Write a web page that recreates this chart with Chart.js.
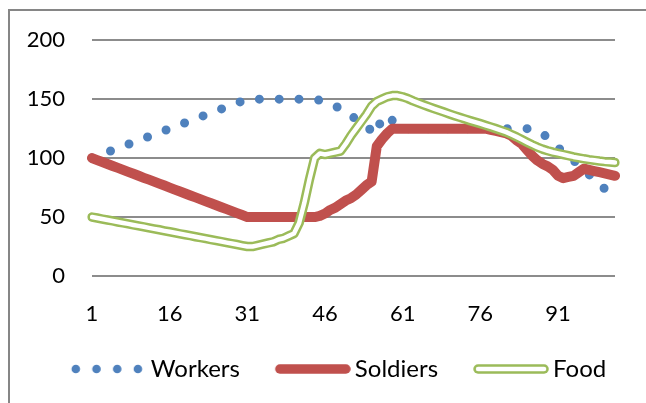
<!DOCTYPE html>
<html>
<head>
<meta charset="utf-8">
<script src="https://cdn.jsdelivr.net/npm/chart.js@4.4.0/dist/chart.umd.min.js"></script>
<style>
  html, body { margin: 0; padding: 0; background: #fff; }
  #wrap { position: relative; width: 646px; height: 403px; overflow: hidden; }
  #frame { position: absolute; left: 8px; top: 9px; width: 700px; height: 500px;
           border-left: 2px solid #868686; border-top: 2px solid #868686; }
  canvas { position: absolute; left: 0; top: 0; }
</style>
</head>
<body>
<div id="wrap">
  <div id="frame"></div>
  <canvas id="colonyChart" width="646" height="403"></canvas>
</div>
<script>
// colony over time

const days = [
  1, 2, 3, 4, 5, 6, 7, 8, 9, 10, 11, 12, 13, 14, 15, 16, 17, 18, 19, 20,
  21, 22, 23, 24, 25, 26, 27, 28, 29, 30, 31, 32, 33, 34, 35, 36, 37, 38, 39, 40,
  41, 42, 43, 44, 45, 46, 47, 48, 49, 50, 51, 52, 53, 54, 55, 56, 57, 58, 59, 60,
  61, 62, 63, 64, 65, 66, 67, 68, 69, 70, 71, 72, 73, 74, 75, 76, 77, 78, 79, 80,
  81, 82, 83, 84, 85, 86, 87, 88, 89, 90, 91, 92, 93, 94, 95, 96, 97, 98, 99, 100,
  101, 102
];

const workers = [
  100, 101.7, 103.3, 105, 106.7, 108.3, 110, 111.7, 113.3, 115, 116.7, 118.3, 120, 121.7, 123.3, 125,
  126.7, 128.3, 130, 131.7, 133.3, 135, 136.7, 138.3, 140, 141.7, 143.3, 145, 146.7, 148.3, 150,
  150, 150, 150, 150, 150, 150, 150, 150, 150, 150, 150, 150, 150,
  149, 148, 146, 144, 142, 139, 136, 133, 130, 127, 123, 120, 136, 134, 132, 126,
  125, 125, 125, 125, 125, 125, 125, 125, 125, 125, 125, 125, 125,
  125, 125, 125, 125, 125, 125, 125, 125, 125, 125, 125, 125, 125,
  123, 121, 117, 113, 109, 105, 101, 98, 94, 90, 86, 82, 78, 74, 72, 70
];

const soldiers = [
  100, 98.3, 96.7, 95, 93.3, 91.7, 90, 88.3, 86.7, 85, 83.3, 81.7, 80, 78.3, 76.7, 75,
  73.3, 71.7, 70, 68.3, 66.7, 65, 63.3, 61.7, 60, 58.3, 56.7, 55, 53.3, 51.7, 50,
  50, 50, 50, 50, 50, 50, 50, 50, 50, 50, 50, 50, 50,
  51, 53, 56, 58, 61, 64, 66, 69, 73, 77, 80, 110, 116, 121, 125,
  125, 125, 125, 125, 125, 125, 125, 125, 125, 125, 125, 125, 125, 125, 125, 125, 125, 125,
  124, 123, 122, 121, 119, 115, 112, 107, 102, 98, 95, 93, 90, 85, 83, 84,
  85, 88, 91, 90, 89, 88, 87, 86, 85
];

const food = [
  50, 49.2, 48.3, 47.5, 46.7, 45.8, 45, 44.2, 43.3, 42.5, 41.7, 40.8, 40, 39.2, 38.3, 37.5,
  36.7, 35.8, 35, 34.2, 33.3, 32.5, 31.7, 30.8, 30, 29.2, 28.3, 27.5, 26.7, 25.8, 25,
  25, 26, 27, 28, 29, 31, 32, 34, 36,
  45, 62, 82, 100, 104, 103, 104, 105, 106, 112, 119, 125, 131, 137, 144, 148, 150, 152, 153,
  153, 152, 150.5, 148.5, 146.8, 145.2, 143.6, 142, 140.5, 139, 137.5, 136, 134.6, 133.2, 131.8, 130.5,
  129.2, 127.8, 126.4, 125, 123.5, 122, 120, 118, 115.8, 113.5, 111.3, 109.3, 107.6, 106.2, 105, 104,
  103, 102, 101, 100.2, 99.4, 98.7, 98.1, 97.5, 97, 96.6, 96.2
];

const yTicks = [0, 50, 100, 150, 200];

const BLUE = '#4f81bd';
const RED = '#c0504d';
const GREEN = '#9bbb59';
const GRID = '#8c8c8c';
const LEGEND_SHIFT = 24; // legend sits a bit right of centre in the original

Chart.defaults.font.family = 'Lato';
Chart.defaults.font.size = 22;
Chart.defaults.color = '#000';

// little pictures for the legend, same strokes as the lines
function makeIcon(draw) {
  const c = document.createElement('canvas');
  c.width = 98;
  c.height = 14;
  const g = c.getContext('2d');
  g.lineCap = 'round';
  draw(g);
  return c;
}

function strokeSample(g, color, width, dash) {
  g.strokeStyle = color;
  g.lineWidth = width;
  g.setLineDash(dash || []);
  g.beginPath();
  g.moveTo(27, 7);
  g.lineTo(93, 7);
  g.stroke();
}

const legendIcons = [
  makeIcon(g => strokeSample(g, BLUE, 8.6, [0, 20.7])),
  makeIcon(g => strokeSample(g, RED, 9.5)),
  makeIcon(g => { strokeSample(g, GREEN, 9.5); strokeSample(g, '#fff', 4.5); })
];

const lineStyle = {
  pointRadius: 0,
  tension: 0,
  fill: false,
  borderCapStyle: 'round',
  borderJoinStyle: 'round'
};

const legendNudge = {
  id: 'legendNudge',
  afterLayout(chart) {
    chart.legend.left += LEGEND_SHIFT;
    chart.legend.right += LEGEND_SHIFT;
  }
};

const ctx = document.getElementById('colonyChart').getContext('2d');
new Chart(ctx, {
  type: 'line',
  data: {
    labels: days,
    datasets: [
      { ...lineStyle, label: 'Workers', data: workers, borderColor: BLUE, borderWidth: 9, borderDash: [0, 19.8], order: 4 },
      { ...lineStyle, label: 'Soldiers', data: soldiers, borderColor: RED, borderWidth: 10, order: 3 },
      { ...lineStyle, label: 'Food', data: food, borderColor: GREEN, borderWidth: 9.5, order: 2 },
      // white core on top of the green makes the double line
      { ...lineStyle, label: 'Food', data: food, borderColor: '#fff', borderWidth: 4.5, order: 1, inner: true }
    ]
  },
  options: {
    responsive: false,
    animation: false,
    devicePixelRatio: 1,
    layout: { padding: { left: 0, right: 31, top: 39, bottom: 12 } },
    scales: {
      x: {
        grid: { display: false },
        border: { display: false },
        ticks: {
          autoSkip: false,
          maxRotation: 0,
          padding: 17,
          callback: (v, i) => (i % 15 === 0 ? days[i] : '')
        },
        afterFit: scale => { scale.height = 60; }
      },
      y: {
        min: yTicks[0],
        max: yTicks[yTicks.length - 1],
        grid: { color: GRID, lineWidth: 2, drawTicks: false },
        border: { display: false },
        ticks: { stepSize: 50, padding: 27 },
        afterFit: scale => { scale.width = 92; }
      }
    },
    plugins: {
      tooltip: { enabled: false },
      legend: {
        position: 'bottom',
        labels: {
          font: { size: 24 },
          usePointStyle: true,
          pointStyleWidth: 82,
          boxHeight: 14,
          padding: 21,
          generateLabels: chart => chart.data.datasets
            .map((ds, i) => ({
              text: ds.label,
              datasetIndex: i,
              pointStyle: legendIcons[i],
              fontColor: '#000',
              lineWidth: 0,
              hidden: false
            }))
            .filter(item => !chart.data.datasets[item.datasetIndex].inner)
        }
      }
    }
  },
  plugins: [legendNudge]
});
</script>
</body>
</html>
